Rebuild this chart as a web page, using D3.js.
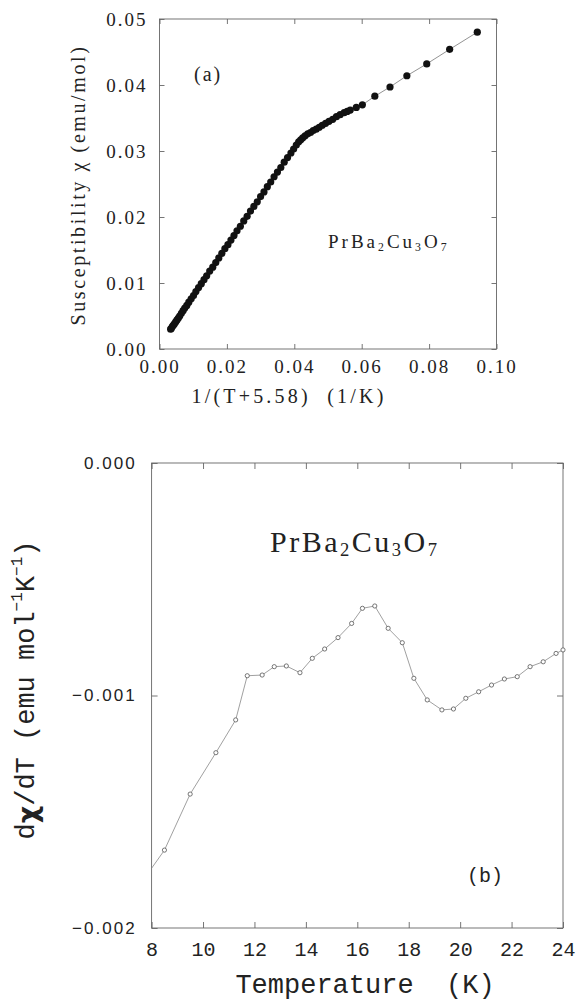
<!DOCTYPE html>
<html><head><meta charset="utf-8">
<script src="https://cdn.jsdelivr.net/npm/d3@7"></script>
<style>body{margin:0;background:#fff}</style>
</head><body>
<svg id="fig" width="577" height="1000"></svg>
<script>
// Panel (a): susceptibility against 1/(T+5.58)
const invT = [0.0033,0.0035,0.0038,0.0041,0.0044,0.0048,0.0052,0.0056,0.0060,0.0065,
  0.0070,0.0075,0.0081,0.0087,0.0094,0.0101,0.0108,0.0116,0.0124,0.0132,
  0.0140,0.0149,0.0158,0.0167,0.0176,0.0185,0.0194,0.0203,0.0212,0.0221,
  0.0230,0.0240,0.0250,0.0260,0.0270,0.0280,0.0290,0.0300,0.0310,0.0320,
  0.0330,0.0340,0.0350,0.0360,0.0370,0.0380,0.0390,0.0398,0.0406,0.0413,
  0.0419,0.0425,0.0432,0.0440,0.0448,0.0456,0.0465,0.0474,0.0483,0.0493,
  0.0503,0.0514,0.0525,0.0536,0.0548,0.0557,0.0566,0.0584,0.0602,0.0639,
  0.0684,0.0734,0.0793,0.0861,0.0943];
const chi = [0.0030,0.0031,0.0034,0.0036,0.0038,0.0041,0.0044,0.0047,0.0050,0.0054,
  0.0058,0.0062,0.0066,0.0071,0.0076,0.0081,0.0087,0.0093,0.0099,0.0105,
  0.0111,0.0118,0.0124,0.0131,0.0138,0.0145,0.0152,0.0158,0.0165,0.0172,
  0.0179,0.0186,0.0194,0.0201,0.0209,0.0216,0.0223,0.0231,0.0238,0.0246,
  0.0253,0.0261,0.0268,0.0275,0.0283,0.0290,0.0297,0.0303,0.0309,0.0314,
  0.0317,0.0320,0.0323,0.0326,0.0328,0.0331,0.0333,0.0336,0.0339,0.0342,
  0.0345,0.0348,0.0352,0.0355,0.0358,0.0360,0.0362,0.0366,0.0370,0.0383,
  0.0397,0.0414,0.0432,0.0454,0.0480];
const xTicksA = [0, 0.02, 0.04, 0.06, 0.08, 0.10];
const yTicksA = [0, 0.01, 0.02, 0.03, 0.04, 0.05];

// Panel (b): temperature derivative of the susceptibility
const temps = [8, 8.5, 9.5, 10.5, 11.27, 11.72, 12.3, 12.77, 13.24, 13.77, 14.25, 14.73,
  15.25, 15.78, 16.2, 16.68, 17.2, 17.75, 18.2, 18.72, 19.29, 19.74, 20.22, 20.72,
  21.22, 21.72, 22.22, 22.72, 23.23, 23.73, 24];
const dchi = [-0.001743, -0.001665, -0.001424, -0.001246, -0.001105, -0.000915, -0.000912,
  -0.000876, -0.000873, -0.000902, -0.000840, -0.000800, -0.000751, -0.000690, -0.000625,
  -0.000615, -0.000711, -0.000773, -0.000926, -0.001019, -0.001062, -0.001058, -0.001012,
  -0.000984, -0.000955, -0.000929, -0.000919, -0.000876, -0.000855, -0.000819, -0.000804];
const xTicksB = [8, 10, 12, 14, 16, 18, 20, 22, 24];
const yTicksB = [0, -0.001, -0.002];

const svg = d3.select("#fig");
const ink = "#222", frameCol = "#666";

function frameAndTicks(g, x, y, xt, yt, tick) {
  const [x0, x1] = x.range(), [y0, y1] = y.range();
  g.append("rect").attr("x", x0).attr("y", y1).attr("width", x1 - x0).attr("height", y0 - y1)
    .attr("fill", "none").attr("stroke", frameCol).attr("stroke-width", 0.9);
  const ax = [
    [d3.axisBottom(x).tickValues(xt).tickSize(-tick), `translate(0,${y0})`],
    [d3.axisTop(x).tickValues(xt).tickSize(-tick), `translate(0,${y1})`],
    [d3.axisLeft(y).tickValues(yt).tickSize(-tick), `translate(${x0},0)`],
    [d3.axisRight(y).tickValues(yt).tickSize(-tick), `translate(${x1},0)`]
  ];
  ax.forEach(([a, t]) => {
    const s = g.append("g").attr("transform", t).call(a.tickFormat(""));
    s.select(".domain").remove();
    s.selectAll("line").attr("stroke", frameCol).attr("stroke-width", 0.9);
  });
}

// ---------- panel (a) ----------
const xa = d3.scaleLinear().domain([0, 0.10]).range([159.5, 496.5]);
const ya = d3.scaleLinear().domain([0, 0.05]).range([349, 19]);
const ga = svg.append("g");
frameAndTicks(ga, xa, ya, xTicksA, yTicksA, 5);

const serif = "'Liberation Serif', 'DejaVu Serif', serif";
ga.append("g").attr("transform", "translate(159.5,0)")
  .call(d3.axisLeft(ya).tickValues(yTicksA).tickSize(0).tickPadding(12).tickFormat(d3.format(".2f")))
  .call(s => s.select(".domain").remove())
  .selectAll("text").attr("font-family", serif).attr("font-size", 19)
  .attr("letter-spacing", 2).attr("fill", ink);
ga.append("g").attr("transform", "translate(0,349)")
  .call(d3.axisBottom(xa).tickValues(xTicksA).tickSize(0).tickPadding(11).tickFormat(d3.format(".2f")))
  .call(s => s.select(".domain").remove())
  .selectAll("text").attr("font-family", serif).attr("font-size", 19)
  .attr("letter-spacing", 2).attr("fill", ink);

const ptsA = invT.map((v, i) => [v, chi[i]]);
ga.append("path").datum(ptsA)
  .attr("d", d3.line().x(d => xa(d[0])).y(d => ya(d[1])))
  .attr("fill", "none").attr("stroke", "#777").attr("stroke-width", 0.8);
ga.selectAll("circle.pa").data(ptsA).join("circle").attr("class", "pa")
  .attr("cx", d => xa(d[0])).attr("cy", d => ya(d[1])).attr("r", 3.6).attr("fill", "#111");

ga.append("text").attr("transform", "translate(78,185) rotate(-90)")
  .attr("text-anchor", "middle").attr("dominant-baseline", "central")
  .attr("font-family", serif).attr("font-size", 20).attr("letter-spacing", 2.6).attr("fill", ink)
  .text("Susceptibility χ (emu/mol)");
ga.append("text").attr("x", 289).attr("y", 403).attr("text-anchor", "middle")
  .attr("font-family", serif).attr("font-size", 20).attr("letter-spacing", 3.2).attr("fill", ink)
  .style("white-space", "pre").text("1/(T+5.58)  (1/K)");
ga.append("text").attr("x", 194).attr("y", 81)
  .attr("font-family", serif).attr("font-size", 20).attr("letter-spacing", 2).attr("fill", ink)
  .text("(a)");

function formula(g, x, y, size, spacing) {
  const t = g.append("text").attr("x", x).attr("y", y)
    .attr("font-family", serif).attr("font-size", size).attr("letter-spacing", spacing).attr("fill", ink);
  [["PrBa", 0], ["2", 1], ["Cu", 0], ["3", 1], ["O", 0], ["7", 1]].forEach(([s, sub]) => {
    const ts = t.append("tspan").text(s);
    if (sub) ts.attr("font-size", size * 0.62).attr("baseline-shift", "-22%");
  });
}
formula(ga, 328, 248, 19, 3);

// ---------- panel (b) ----------
const xb = d3.scaleLinear().domain([8, 24]).range([151.6, 563]);
const yb = d3.scaleLinear().domain([-0.002, 0]).range([928, 463]);
const gb = svg.append("g");
frameAndTicks(gb, xb, yb, xTicksB, yTicksB, 6);

const mono = "'Liberation Mono', 'DejaVu Sans Mono', monospace";
const sans = "'Liberation Sans', Arial, sans-serif";
gb.append("g").attr("transform", "translate(151.6,0)")
  .call(d3.axisLeft(yb).tickValues(yTicksB).tickSize(0).tickPadding(15).tickFormat(d3.format(".3f")))
  .call(s => s.select(".domain").remove())
  .selectAll("text").attr("font-family", sans).attr("font-size", 17)
  .attr("letter-spacing", 2).attr("fill", ink);
gb.append("g").attr("transform", "translate(0,928)")
  .call(d3.axisBottom(xb).tickValues(xTicksB).tickSize(0).tickPadding(14).tickFormat(d3.format("d")))
  .call(s => s.select(".domain").remove())
  .selectAll("text").attr("font-family", mono).attr("font-size", 20).attr("fill", ink);

const ptsB = temps.map((t, i) => [t, dchi[i]]);
gb.append("path").datum(ptsB)
  .attr("d", d3.line().x(d => xb(d[0])).y(d => yb(d[1])))
  .attr("fill", "none").attr("stroke", "#888").attr("stroke-width", 0.8);
gb.selectAll("circle.pb").data(ptsB.slice(1)).join("circle").attr("class", "pb")
  .attr("cx", d => xb(d[0])).attr("cy", d => yb(d[1])).attr("r", 2.1)
  .attr("fill", "#fff").attr("stroke", "#555").attr("stroke-width", 0.8);

gb.append("text").attr("x", 365).attr("y", 993).attr("text-anchor", "middle")
  .attr("font-family", mono).attr("font-size", 27).attr("fill", ink)
  .style("white-space", "pre").text("Temperature  (K)");
gb.append("text").attr("x", 467).attr("y", 882)
  .attr("font-family", mono).attr("font-size", 20).attr("fill", ink).text("(b)");

const yl = gb.append("text").attr("transform", "translate(27,690) rotate(-90)")
  .attr("text-anchor", "middle").attr("dominant-baseline", "central")
  .attr("font-family", mono).attr("font-size", 27).attr("fill", ink).style("white-space", "pre");
[["d", ""], ["χ", "b"], ["/dT (emu mol", ""], ["−1", "s"], ["K", ""], ["−1", "s"], [")", ""]]
  .forEach(([s, k]) => {
    const ts = yl.append("tspan").text(s);
    if (k === "b") ts.attr("font-weight", "bold").attr("font-family", "'DejaVu Sans', sans-serif");
    if (k === "s") ts.attr("font-size", 16).attr("baseline-shift", "super");
  });

formula(gb, 270, 552, 30, 2.5);
</script>
</body></html>
